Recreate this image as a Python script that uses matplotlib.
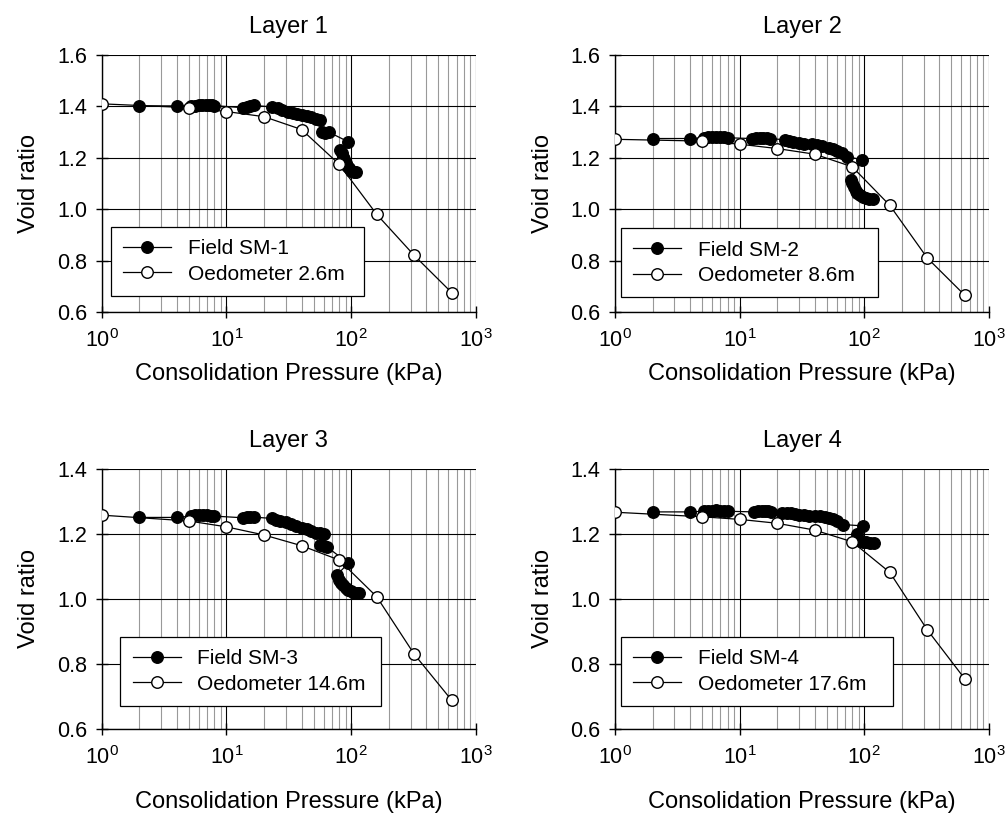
import matplotlib
matplotlib.use("Agg")
import matplotlib.pyplot as plt
from matplotlib.ticker import LogLocator, NullFormatter, FixedLocator

plt.rcParams['font.family'] = ['Liberation Sans', 'DejaVu Sans']
plt.rcParams['mathtext.fontset'] = 'custom'
plt.rcParams['mathtext.rm'] = 'Liberation Sans'
plt.rcParams['mathtext.default'] = 'regular'

# ---------------- data ----------------
titles = ["Layer 1", "Layer 2", "Layer 3", "Layer 4"]
field_labels = ["Field SM-1", "Field SM-2", "Field SM-3", "Field SM-4"]
oed_labels = ["Oedometer 2.6m", "Oedometer 8.6m", "Oedometer 14.6m", "Oedometer 17.6m"]

oed_p = [1, 5, 10, 20, 40, 80, 160, 320, 640]
oed_e1 = [1.41, 1.395, 1.38, 1.36, 1.31, 1.175, 0.98, 0.82, 0.675]
oed_e2 = [1.272, 1.265, 1.253, 1.236, 1.214, 1.165, 1.015, 0.81, 0.665]
oed_e3 = [1.258, 1.24, 1.222, 1.197, 1.164, 1.12, 1.007, 0.83, 0.688]
oed_e4 = [1.267, 1.253, 1.245, 1.233, 1.212, 1.176, 1.082, 0.905, 0.754]

field_p1 = [2, 4, 5.2, 5.6, 6.0, 6.4, 6.8, 7.2, 7.6, 8.0, 13.5, 14.5, 15.5, 16.5,
            23, 26, 28, 31, 34, 37, 40, 44, 48, 52, 56, 58, 62, 66,
            95, 82, 84, 86, 88, 90, 93, 96, 100, 105, 110]
field_e1 = [1.402, 1.402, 1.400, 1.403, 1.405, 1.406, 1.406, 1.405, 1.404, 1.403,
            1.395, 1.398, 1.402, 1.404,
            1.398, 1.392, 1.386, 1.380, 1.375, 1.370, 1.366, 1.362, 1.358, 1.352,
            1.346, 1.300, 1.298, 1.300,
            1.262, 1.232, 1.218, 1.205, 1.195, 1.180, 1.170, 1.160, 1.150, 1.145, 1.145]

field_p2 = [2, 4, 5.2, 5.6, 6, 6.5, 7, 7.5, 8, 12.5, 13.5, 14.5, 15.5, 16.5, 17.5,
            23, 25, 27, 30, 33, 38, 42, 46, 52, 56, 60, 66, 72,
            95, 78, 80, 82, 85, 88, 92, 97, 103, 110, 118]
field_e2 = [1.275, 1.275, 1.278, 1.280, 1.280, 1.281, 1.280, 1.279, 1.278,
            1.275, 1.277, 1.278, 1.278, 1.277, 1.275,
            1.270, 1.266, 1.262, 1.258, 1.255, 1.252, 1.250, 1.245, 1.240, 1.235,
            1.225, 1.218, 1.205,
            1.193, 1.115, 1.100, 1.085, 1.072, 1.062, 1.055, 1.048, 1.043, 1.040, 1.040]

field_p3 = [2, 4, 5.2, 5.6, 6, 6.5, 7, 7.5, 8, 13.5, 14.5, 15.5, 16.5,
            23, 25, 27, 30, 33, 36, 40, 44, 48, 52, 56, 60,
            56, 60, 64, 95, 77, 80, 83, 86, 90, 95, 100, 106, 112, 116]
field_e3 = [1.251, 1.251, 1.255, 1.257, 1.258, 1.258, 1.257, 1.256, 1.255,
            1.250, 1.252, 1.253, 1.252,
            1.248, 1.244, 1.240, 1.236, 1.232, 1.226, 1.220, 1.214, 1.208, 1.204,
            1.202, 1.200,
            1.166, 1.162, 1.160, 1.110, 1.075, 1.060, 1.050, 1.042, 1.035, 1.028,
            1.024, 1.020, 1.018, 1.018]

field_p4 = [2, 4, 5.2, 5.6, 6, 6.5, 7, 7.5, 8, 13, 14, 15, 16, 17, 18,
            22, 24, 26, 28, 30, 33, 36, 40, 44, 48, 52, 56, 60, 67,
            98, 87, 92, 98, 104, 112, 120]
field_e4 = [1.268, 1.268, 1.270, 1.272, 1.272, 1.273, 1.272, 1.271, 1.270,
            1.268, 1.270, 1.271, 1.271, 1.270, 1.268,
            1.266, 1.265, 1.264, 1.262, 1.260, 1.258, 1.256, 1.255, 1.254, 1.252,
            1.250, 1.246, 1.240, 1.229,
            1.225, 1.200, 1.178, 1.174, 1.174, 1.173, 1.173]

oed_all = [oed_e1, oed_e2, oed_e3, oed_e4]
field_p_all = [field_p1, field_p2, field_p3, field_p4]
field_e_all = [field_e1, field_e2, field_e3, field_e4]
ylims = [(0.6, 1.6), (0.6, 1.6), (0.6, 1.4), (0.6, 1.4)]

# ---------------- layout ----------------
W, H = 1007, 815
fig = plt.figure(figsize=(W / 100, H / 100), dpi=100)
rects = [
    (101.7, 55, 476, 312),
    (615, 55, 989, 312),
    (101.7, 469, 476, 729),
    (615, 469, 989, 729),
]
legend_boxes = [
    (0.024, 0.031, 0.70, 0.362),
    (0.015, 0.028, 0.703, 0.355),
    (0.05, 0.065, 0.746, 0.377),
    (0.015, 0.065, 0.742, 0.377),
]

for i in range(4):
    x0, y0, x1, y1 = rects[i]
    ax = fig.add_axes([x0 / W, 1 - y1 / H, (x1 - x0) / W, (y1 - y0) / H])
    ax.set_xscale('log')
    ax.set_xlim(1, 1000)
    ax.set_ylim(*ylims[i])
    lo, hi = ylims[i]
    yt = [round(lo + 0.2 * k, 1) for k in range(int(round((hi - lo) / 0.2)) + 1)]
    ax.yaxis.set_major_locator(FixedLocator(yt))
    ax.set_yticklabels([f"{v:.1f}" for v in yt])
    ax.xaxis.set_major_locator(LogLocator(base=10, numticks=10))
    ax.xaxis.set_minor_locator(LogLocator(base=10, subs=range(2, 10), numticks=20))
    ax.xaxis.set_minor_formatter(NullFormatter())

    ax.grid(True, which='major', axis='both', color='black', linewidth=0.8, zorder=0)
    ax.grid(True, which='minor', axis='x', color='#999999', linewidth=0.8, zorder=0)
    ax.set_axisbelow(True)
    ax.tick_params(which='major', direction='inout', length=9, width=1,
                   labelsize=15.5, pad=6)
    ax.tick_params(axis='x', which='major', pad=8)
    ax.tick_params(which='minor', length=0)
    for s in ['top', 'right']:
        ax.spines[s].set_visible(False)
    for s in ['left', 'bottom']:
        ax.spines[s].set_linewidth(1)

    ax.plot(field_p_all[i], field_e_all[i], '-o', color='black', linewidth=0.9,
            markersize=8.3, markerfacecolor='black', markeredgecolor='black',
            label=field_labels[i], zorder=3)
    ax.plot(oed_p, oed_all[i], '-o', color='black', linewidth=0.9,
            markersize=8.3, markerfacecolor='white', markeredgecolor='black',
            label=oed_labels[i], zorder=4)

    ax.set_title(titles[i], fontsize=17, pad=16)
    ax.set_ylabel("Void ratio", fontsize=17, labelpad=12)
    ax.set_xlabel("Consolidation Pressure (kPa)", fontsize=17,
                  labelpad=8 if i < 2 else 16)

    lx0, ly0, lx1, ly1 = legend_boxes[i]
    leg = ax.legend(loc='center', bbox_to_anchor=(lx0, ly0, lx1 - lx0, ly1 - ly0),
                    mode='expand', fontsize=15, frameon=True, fancybox=False,
                    framealpha=1, edgecolor='black', handlelength=2.3,
                    borderaxespad=0, borderpad=0.6, labelspacing=0.3)
    leg.get_frame().set_linewidth(0.9)
    leg.set_zorder(10)

fig.savefig("out.png", dpi=100)
